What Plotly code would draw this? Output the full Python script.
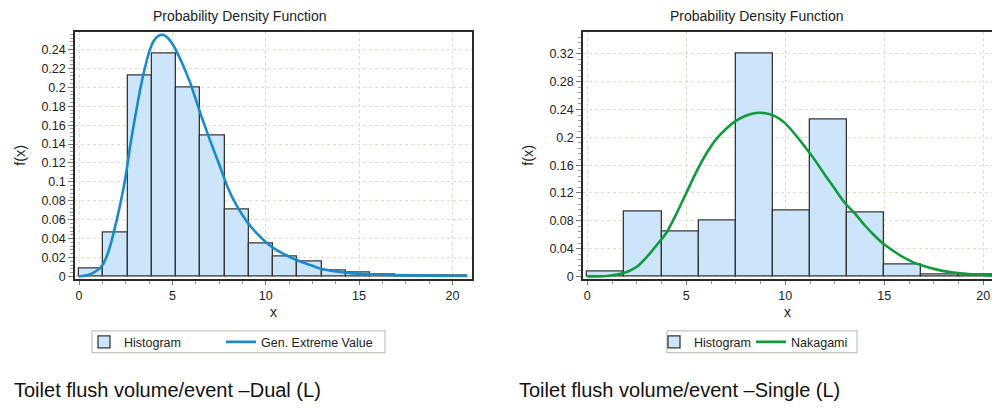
import plotly.graph_objects as go

# ---------------- data ----------------
dual_edges = [0.0, 1.3, 2.6, 3.9, 5.2, 6.5, 7.8, 9.1, 10.4, 11.7, 13.0, 14.3, 15.6, 16.9, 18.2, 19.5, 20.8]
dual_heights = [0.0087, 0.046, 0.2125, 0.2355, 0.1993, 0.149, 0.0703, 0.0348, 0.0205,
                0.016, 0.0063, 0.0042, 0.0017, 0.001, 0.0007, 0.0005]
gev_x = [0.0, 0.5, 1.0, 1.25, 1.5, 1.75, 2.0, 2.25, 2.5, 2.75, 3.0, 3.25, 3.5, 3.75, 4.0,
         4.25, 4.5, 4.75, 5.0, 5.25, 5.5, 5.75, 6.0, 6.5, 7.0, 7.5, 8.0, 8.5, 9.0, 9.5,
         10.0, 10.5, 11.0, 11.5, 12.0, 12.5, 13.0, 13.5, 14.0, 15.0, 16.0, 17.0, 18.0,
         19.0, 20.8]
gev_y = [0.0, 0.0015, 0.0068, 0.012, 0.022, 0.038, 0.058, 0.080, 0.106, 0.139, 0.168,
         0.195, 0.218, 0.237, 0.249, 0.2545, 0.2555, 0.2525, 0.246, 0.237, 0.2265, 0.215,
         0.2025, 0.1725, 0.145, 0.119, 0.0925, 0.073, 0.058, 0.046, 0.0365, 0.029, 0.0235,
         0.0187, 0.0147, 0.0113, 0.0078, 0.0062, 0.0048, 0.0028, 0.0019, 0.0014, 0.001,
         0.0008, 0.0005]

single_edges = [0.0, 1.875, 3.75, 5.625, 7.5, 9.375, 11.25, 13.125, 15.0, 16.875, 18.75, 20.625]
single_heights = [0.0066, 0.0936, 0.0652, 0.0799, 0.32, 0.095, 0.225, 0.0917, 0.0165, 0.0033, 0.0033]
nak_x = [0.0, 0.5, 1.0, 1.5, 2.0, 2.5, 3.0, 3.5, 4.0, 4.5, 5.0, 5.5, 6.0, 6.5, 7.0, 7.5,
         8.0, 8.5, 9.0, 9.5, 10.0, 10.5, 11.0, 11.5, 12.0, 12.5, 13.0, 13.5, 14.0, 14.5,
         15.0, 15.5, 16.0, 16.5, 17.0, 17.5, 18.0, 18.5, 19.0, 19.5, 20.0, 20.5]
nak_y = [0.0, 0.0002, 0.0008, 0.0028, 0.0066, 0.014, 0.028, 0.045, 0.063, 0.090, 0.120,
         0.150, 0.176, 0.197, 0.212, 0.2235, 0.231, 0.235, 0.2345, 0.230, 0.220, 0.204,
         0.186, 0.167, 0.146, 0.126, 0.106, 0.091, 0.074, 0.059, 0.046, 0.036, 0.027,
         0.020, 0.015, 0.011, 0.0078, 0.0058, 0.0042, 0.003, 0.0022, 0.0016]

titles = ["Probability Density Function", "Probability Density Function"]
captions = ["Toilet flush volume/event \u2013Dual (L)", "Toilet flush volume/event \u2013Single (L)"]
fit_names = ["Gen. Extreme Value", "Nakagami"]

# ---------------- styling ----------------
FONT = "Liberation Sans, Arial, sans-serif"
BAR_FILL = "#cce5fa"
BAR_LINE = "#363636"
GEV_COL = "#1a8bc8"
NAK_COL = "#0f9b3c"
GRID = "#dedec6"
W, H = 992, 408


def centers(edges):
    return [(a + b) / 2 for a, b in zip(edges[:-1], edges[1:])]


def widths(edges):
    return [b - a for a, b in zip(edges[:-1], edges[1:])]


fig = go.Figure()

fig.add_trace(go.Bar(x=centers(dual_edges), y=dual_heights, width=widths(dual_edges),
                     marker=dict(color=BAR_FILL, line=dict(color=BAR_LINE, width=1.3)),
                     name="Histogram", xaxis="x", yaxis="y", legend="legend", legendwidth=92))
fig.add_trace(go.Scatter(x=gev_x, y=gev_y, mode="lines",
                         line=dict(color=GEV_COL, width=2.6, shape="spline", smoothing=0.6),
                         name=fit_names[0], xaxis="x", yaxis="y", legend="legend"))
fig.add_trace(go.Bar(x=centers(single_edges), y=single_heights, width=widths(single_edges),
                     marker=dict(color=BAR_FILL, line=dict(color=BAR_LINE, width=1.3)),
                     name="Histogram", xaxis="x2", yaxis="y2", legend="legend2", legendwidth=52))
fig.add_trace(go.Scatter(x=nak_x, y=nak_y, mode="lines",
                         line=dict(color=NAK_COL, width=2.6, shape="spline", smoothing=0.6),
                         name=fit_names[1], xaxis="x2", yaxis="y2", legend="legend2"))


def px_x(p):
    return p / W


def px_y(p):
    return 1 - p / H


ydom = [px_y(282.5), px_y(32)]
tickfont = dict(family=FONT, size=12.5, color="#222222")

common_x = dict(showline=True, linecolor="#2a2a2a", linewidth=1.5, mirror=True,
                ticks="outside", ticklen=4, tickcolor="#777777", tickfont=tickfont,
                showgrid=True, gridcolor=GRID, griddash="dot", gridwidth=1,
                zeroline=False, dtick=5, tick0=0,
                minor=dict(dtick=1.25, ticks="outside", ticklen=3, tickcolor="#999999", showgrid=False),
                title=dict(text="x", font=dict(family=FONT, size=14, color="#222222"), standoff=5))

legend_common = dict(orientation="h", xanchor="left", yanchor="middle",
                     borderwidth=0, bgcolor="rgba(0,0,0,0)",
                     font=dict(family=FONT, size=12.5, color="#222222"), traceorder="normal")

fig.update_layout(
    width=W, height=H, margin=dict(l=0, r=0, t=0, b=0),
    paper_bgcolor="white", plot_bgcolor="white",
    font=dict(family=FONT, color="#222222"),
    barmode="overlay", bargap=0,
    xaxis=dict(domain=[px_x(75), px_x(472)], range=[-0.214, 21.05], anchor="y", **common_x),
    yaxis=dict(domain=ydom, range=[-0.0027, 0.2589], anchor="x",
               showline=True, linecolor="#2a2a2a", linewidth=1.5, mirror=True,
               ticks="outside", ticklen=5, tickcolor="#777777", tickfont=tickfont,
               showgrid=True, gridcolor=GRID, griddash="dot", gridwidth=1, zeroline=False,
               dtick=0.02, tick0=0, tickformat="~g",
               minor=dict(dtick=0.004, ticks="outside", ticklen=3, tickcolor="#999999", showgrid=False),
               title=dict(text="f(x)", font=dict(family=FONT, size=14.5, color="#222222"), standoff=12)),
    xaxis2=dict(domain=[px_x(583), 1.0], range=[-0.217, 20.44], anchor="y2", **common_x),
    yaxis2=dict(domain=ydom, range=[-0.0036, 0.3518], anchor="x2",
                showline=True, linecolor="#2a2a2a", linewidth=1.5, mirror=False,
                ticks="outside", ticklen=5, tickcolor="#777777", tickfont=tickfont,
                showgrid=True, gridcolor=GRID, griddash="dot", gridwidth=1, zeroline=False,
                dtick=0.04, tick0=0, tickformat="~g",
                minor=dict(dtick=0.008, ticks="outside", ticklen=3, tickcolor="#999999", showgrid=False),
                title=dict(text="f(x)", font=dict(family=FONT, size=14.5, color="#222222"), standoff=12)),
    legend=dict(x=px_x(84), y=px_y(346.5), **legend_common),
    legend2=dict(x=px_x(654), y=px_y(346.5), **legend_common),
    showlegend=True,
)

# legend frames
for x0, x1 in [(92, 385), (667, 857)]:
    fig.add_shape(type="rect", xref="paper", yref="paper",
                  x0=px_x(x0), x1=px_x(x1), y0=px_y(357), y1=px_y(335),
                  line=dict(color="#c4c4bc", width=1.2), fillcolor="rgba(0,0,0,0)", layer="below")

# chart titles
for cx, t in zip([240, 757], titles):
    fig.add_annotation(text=t, x=px_x(cx), y=px_y(16), xref="paper", yref="paper",
                       xanchor="center", yanchor="middle", showarrow=False,
                       font=dict(family=FONT, size=14, color="#222222"))

# captions under the charts
for lx, c in zip([12, 517], captions):
    fig.add_annotation(text=c, x=px_x(lx), y=px_y(395), xref="paper", yref="paper",
                       xanchor="left", yanchor="middle", showarrow=False,
                       font=dict(family=FONT, size=20, color="#111111"))

fig.write_html("out.html")
